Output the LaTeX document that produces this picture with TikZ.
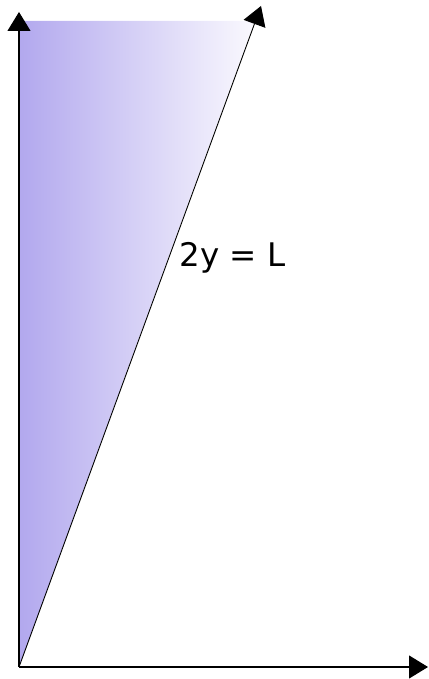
\documentclass[tikz,border=0pt]{standalone}
\usepackage{fontspec}
\setmainfont{DejaVu Sans}
\usetikzlibrary{arrows.meta}
\definecolor{shadeleft}{RGB}{178,168,238}
\definecolor{shaderight}{RGB}{250,249,254}
\tikzset{
  axis/.style={line width=1.1pt,-{Triangle[length=19pt,width=23pt]}},
  lbl/.style={font=\fontsize{32.5}{36}\selectfont,inner sep=0pt,anchor=base west}
}
\begin{document}
\begin{tikzpicture}[x=1pt,y=1pt]
\useasboundingbox (0,0) rectangle (428,679);
\coordinate (O) at (19,12);
\coordinate (ytip) at (19,667);
\coordinate (xtip) at (428,12);
\coordinate (dtip) at (261,673);
\coordinate (tl) at (19,658);
\coordinate (tr) at (254.5,658);
\shade[left color=shadeleft,right color=shaderight,shading=axis,shading angle=90] (O) -- (tl) -- (tr) -- cycle;
\draw[axis] (O) -- (ytip);
\draw[axis] (O) -- (xtip);
\draw[axis,line width=0.9pt] (O) -- (dtip);
\node[lbl] (eq) at (179.5,412) {2y = L};
\end{tikzpicture}
\end{document}
